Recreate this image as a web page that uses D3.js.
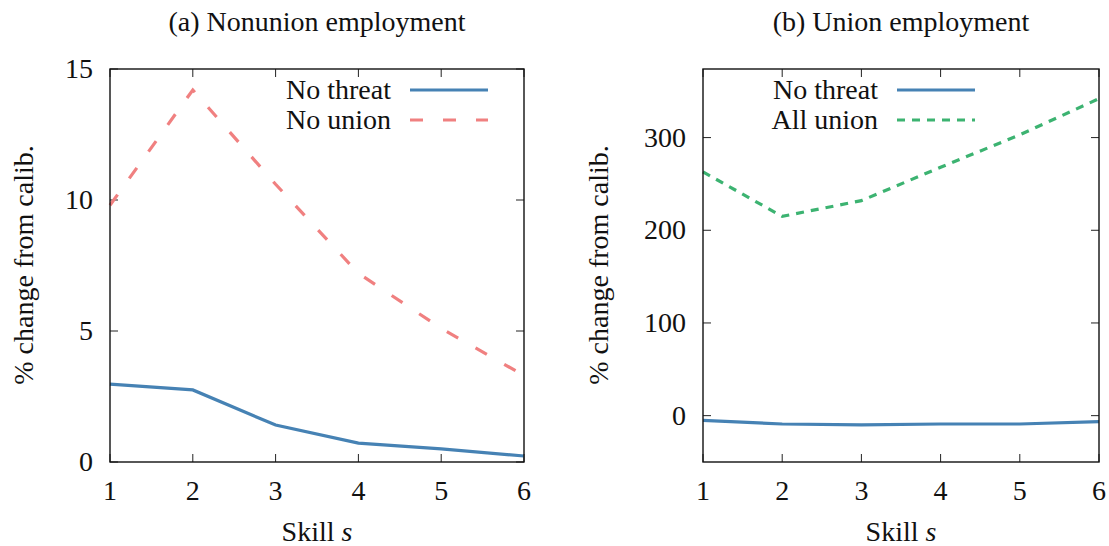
<!DOCTYPE html>
<html>
<head>
<meta charset="utf-8">
<script src="https://cdn.jsdelivr.net/npm/d3@7"></script>
<style>
body { margin: 0; background: #fff; }
</style>
</head>
<body>
<script>
// skill levels
var skills = [1, 2, 3, 4, 5, 6];

// panel (a) nonunion employment, % change from calibration
var nonunionNoThreat = [2.97, 2.75, 1.41, 0.72, 0.5, 0.23];
var nonunionNoUnion = [9.8, 14.2, 10.6, 7.2, 5.1, 3.3];

// panel (b) union employment
var unionNoThreat = [-5, -9, -10, -9, -9, -6.5];
var unionAllUnion = [263, 215, 232, 268, 303, 342];

var xTicks = [1, 2, 3, 4, 5, 6];
var yTicksA = [0, 5, 10, 15];
var yTicksB = [0, 100, 200, 300];

var svg = d3.select("body").append("svg").attr("width", 1109).attr("height", 546)
  .style("font-family", "'Liberation Serif', 'DejaVu Serif', 'Times New Roman', serif")
  .attr("fill", "#111");

function panel(opt) {
  var x = d3.scaleLinear().domain([1, 6]).range([opt.left, opt.right]);
  var y = d3.scaleLinear().domain(opt.ydom).range([462, 69]);
  var g = svg.append("g");

  // ticks, inward on all four sides
  var tl = 8;
  xTicks.forEach(function(t) {
    g.append("line").attr("x1", x(t)).attr("x2", x(t)).attr("y1", 462).attr("y2", 462 - tl).attr("stroke", "#222").attr("stroke-width", 1);
    g.append("line").attr("x1", x(t)).attr("x2", x(t)).attr("y1", 69).attr("y2", 69 + tl).attr("stroke", "#222").attr("stroke-width", 1);
    g.append("text").attr("x", x(t)).attr("y", 500).attr("text-anchor", "middle").attr("font-size", 28).text(t);
  });
  opt.yticks.forEach(function(t) {
    g.append("line").attr("x1", opt.left).attr("x2", opt.left + tl).attr("y1", y(t)).attr("y2", y(t)).attr("stroke", "#222").attr("stroke-width", 1);
    g.append("line").attr("x1", opt.right).attr("x2", opt.right - tl).attr("y1", y(t)).attr("y2", y(t)).attr("stroke", "#222").attr("stroke-width", 1);
    g.append("text").attr("x", opt.left - 17).attr("y", y(t) + 9).attr("text-anchor", "end").attr("font-size", 28).text(t);
  });

  var line = d3.line().x(function(d, i) { return x(skills[i]); }).y(function(d) { return y(d); });

  opt.series.forEach(function(s) {
    g.append("path").datum(s.values).attr("d", line).attr("fill", "none")
      .attr("stroke", s.color).attr("stroke-width", 3.2).attr("stroke-dasharray", s.dash);
  });

  // legend
  opt.series.forEach(function(s, i) {
    var ly = 90 + i * 30;
    g.append("text").attr("x", opt.legX).attr("y", ly + 9).attr("text-anchor", "end").attr("font-size", 28).text(s.name);
    g.append("line").attr("x1", opt.legX + 19).attr("x2", opt.legX + 97).attr("y1", ly).attr("y2", ly)
      .attr("stroke", s.color).attr("stroke-width", 3.2).attr("stroke-dasharray", s.dash);
  });

  // frame
  g.append("rect").attr("x", opt.left).attr("y", 69).attr("width", opt.right - opt.left).attr("height", 462 - 69)
    .attr("fill", "none").attr("stroke", "#111").attr("stroke-width", 1.4);

  var cx = (opt.left + opt.right) / 2;
  g.append("text").attr("x", cx).attr("y", 31).attr("text-anchor", "middle").attr("font-size", 28).text(opt.title);
  var xl = g.append("text").attr("x", cx).attr("y", 541).attr("text-anchor", "middle").attr("font-size", 28);
  xl.append("tspan").text("Skill ");
  xl.append("tspan").attr("font-style", "italic").text("s");
  g.append("text").attr("transform", "translate(" + opt.ylabX + ",265) rotate(-90)")
    .attr("text-anchor", "middle").attr("font-size", 28).text("% change from calib.");
}

panel({
  left: 110, right: 524, ydom: [0, 15], yticks: yTicksA, legX: 391, ylabX: 33,
  title: "(a) Nonunion employment",
  series: [
    { name: "No threat", values: nonunionNoThreat, color: "#4682b4", dash: null },
    { name: "No union", values: nonunionNoUnion, color: "#f08080", dash: "13,20" }
  ]
});

panel({
  left: 703, right: 1099, ydom: [-50, 374], yticks: yTicksB, legX: 878, ylabX: 608,
  title: "(b) Union employment",
  series: [
    { name: "No threat", values: unionNoThreat, color: "#4682b4", dash: null },
    { name: "All union", values: unionAllUnion, color: "#3cb371", dash: "8,7" }
  ]
});
</script>
</body>
</html>
